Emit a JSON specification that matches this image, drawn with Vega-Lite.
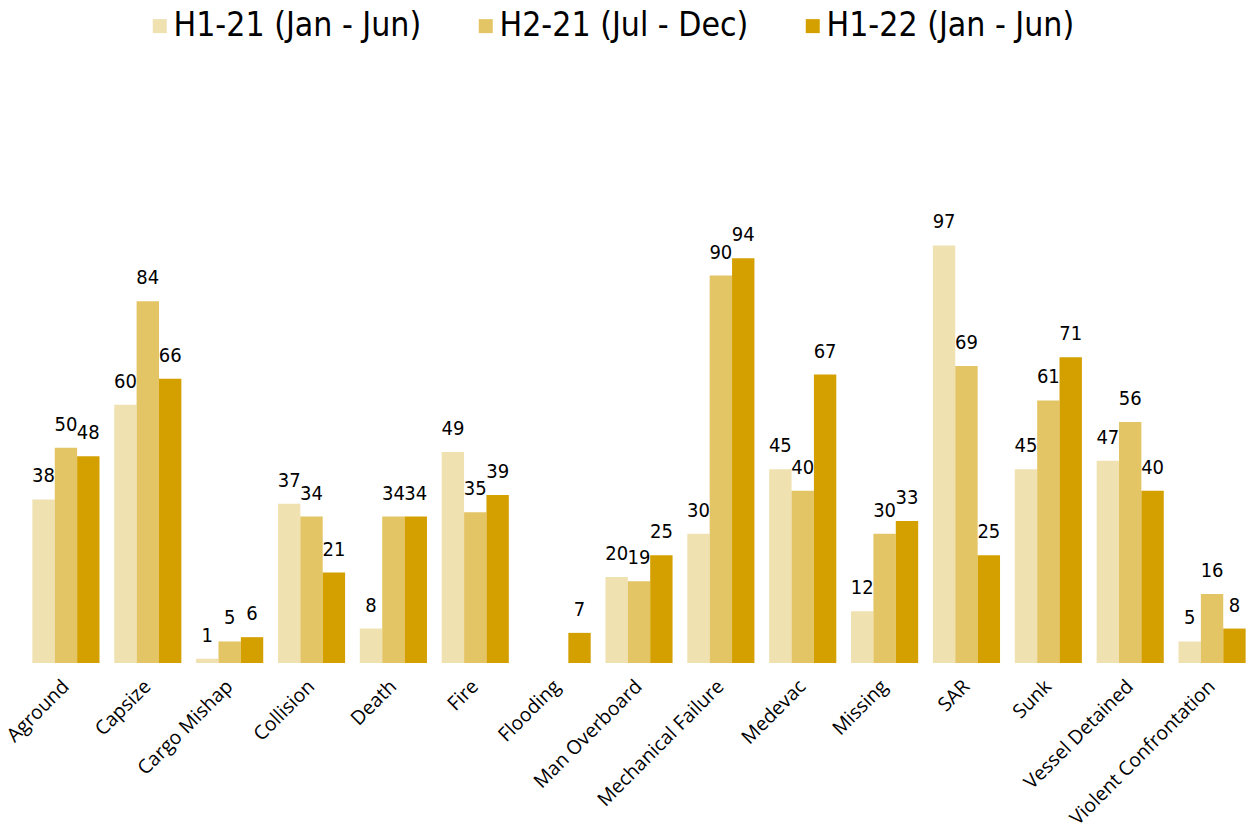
{
  "$schema": "https://vega.github.io/schema/vega-lite/v6.json",
  "autosize": "none",
  "width": 1228,
  "height": 663,
  "padding": {"left": 25, "right": 0, "top": 0, "bottom": 170},
  "background": "white",
  "config": {"view": {"stroke": null}},
  "data": {"values": [
    {"cat": "Aground", "s": "H1-21 (Jan - Jun)", "v": 38},
    {"cat": "Aground", "s": "H2-21 (Jul - Dec)", "v": 50},
    {"cat": "Aground", "s": "H1-22 (Jan - Jun)", "v": 48},
    {"cat": "Capsize", "s": "H1-21 (Jan - Jun)", "v": 60},
    {"cat": "Capsize", "s": "H2-21 (Jul - Dec)", "v": 84},
    {"cat": "Capsize", "s": "H1-22 (Jan - Jun)", "v": 66},
    {"cat": "Cargo Mishap", "s": "H1-21 (Jan - Jun)", "v": 1},
    {"cat": "Cargo Mishap", "s": "H2-21 (Jul - Dec)", "v": 5},
    {"cat": "Cargo Mishap", "s": "H1-22 (Jan - Jun)", "v": 6},
    {"cat": "Collision", "s": "H1-21 (Jan - Jun)", "v": 37},
    {"cat": "Collision", "s": "H2-21 (Jul - Dec)", "v": 34},
    {"cat": "Collision", "s": "H1-22 (Jan - Jun)", "v": 21},
    {"cat": "Death", "s": "H1-21 (Jan - Jun)", "v": 8},
    {"cat": "Death", "s": "H2-21 (Jul - Dec)", "v": 34},
    {"cat": "Death", "s": "H1-22 (Jan - Jun)", "v": 34},
    {"cat": "Fire", "s": "H1-21 (Jan - Jun)", "v": 49},
    {"cat": "Fire", "s": "H2-21 (Jul - Dec)", "v": 35},
    {"cat": "Fire", "s": "H1-22 (Jan - Jun)", "v": 39},
    {"cat": "Flooding", "s": "H1-22 (Jan - Jun)", "v": 7},
    {"cat": "Man Overboard", "s": "H1-21 (Jan - Jun)", "v": 20},
    {"cat": "Man Overboard", "s": "H2-21 (Jul - Dec)", "v": 19},
    {"cat": "Man Overboard", "s": "H1-22 (Jan - Jun)", "v": 25},
    {"cat": "Mechanical Failure", "s": "H1-21 (Jan - Jun)", "v": 30},
    {"cat": "Mechanical Failure", "s": "H2-21 (Jul - Dec)", "v": 90},
    {"cat": "Mechanical Failure", "s": "H1-22 (Jan - Jun)", "v": 94},
    {"cat": "Medevac", "s": "H1-21 (Jan - Jun)", "v": 45},
    {"cat": "Medevac", "s": "H2-21 (Jul - Dec)", "v": 40},
    {"cat": "Medevac", "s": "H1-22 (Jan - Jun)", "v": 67},
    {"cat": "Missing", "s": "H1-21 (Jan - Jun)", "v": 12},
    {"cat": "Missing", "s": "H2-21 (Jul - Dec)", "v": 30},
    {"cat": "Missing", "s": "H1-22 (Jan - Jun)", "v": 33},
    {"cat": "SAR", "s": "H1-21 (Jan - Jun)", "v": 97},
    {"cat": "SAR", "s": "H2-21 (Jul - Dec)", "v": 69},
    {"cat": "SAR", "s": "H1-22 (Jan - Jun)", "v": 25},
    {"cat": "Sunk", "s": "H1-21 (Jan - Jun)", "v": 45},
    {"cat": "Sunk", "s": "H2-21 (Jul - Dec)", "v": 61},
    {"cat": "Sunk", "s": "H1-22 (Jan - Jun)", "v": 71},
    {"cat": "Vessel Detained", "s": "H1-21 (Jan - Jun)", "v": 47},
    {"cat": "Vessel Detained", "s": "H2-21 (Jul - Dec)", "v": 56},
    {"cat": "Vessel Detained", "s": "H1-22 (Jan - Jun)", "v": 40},
    {"cat": "Violent Confrontation", "s": "H1-21 (Jan - Jun)", "v": 5},
    {"cat": "Violent Confrontation", "s": "H2-21 (Jul - Dec)", "v": 16},
    {"cat": "Violent Confrontation", "s": "H1-22 (Jan - Jun)", "v": 8}
  ]},
  "encoding": {
    "x": {
      "field": "cat", "type": "nominal", "sort": null,
      "scale": {"paddingInner": 0.18, "paddingOuter": 0.09},
      "axis": {"title": null, "labelAngle": -45, "labelAlign": "right", "labelBaseline": "middle",
               "labelFont": "Open Sans", "labelFontSize": 19.5, "labelColor": "#000000", "labelLimit": 400,
               "domain": false, "ticks": false, "labelPadding": 20, "grid": false}
    },
    "xOffset": {"field": "s", "type": "nominal", "sort": ["H1-21 (Jan - Jun)", "H2-21 (Jul - Dec)", "H1-22 (Jan - Jun)"], "scale": {"paddingInner": 0, "paddingOuter": 0, "domain": ["H1-21 (Jan - Jun)", "H2-21 (Jul - Dec)", "H1-22 (Jan - Jun)"]}},
    "y": {"field": "v", "type": "quantitative", "scale": {"domain": [0, 154], "nice": false}, "axis": null}
  },
  "layer": [
    {
      "mark": {"type": "bar"},
      "encoding": {
        "color": {
          "field": "s", "type": "nominal",
          "scale": {"domain": ["H1-21 (Jan - Jun)", "H2-21 (Jul - Dec)", "H1-22 (Jan - Jun)"], "range": ["#F0E1B1", "#E4C565", "#D4A000"]},
          "legend": {"title": null, "orient": "none", "legendX": 118, "legendY": 9, "direction": "horizontal",
                     "symbolType": "square", "symbolSize": 196, "symbolStrokeWidth": 0,
                     "labelFont": "DejaVu Sans Condensed", "labelFontSize": 33.5, "labelColor": "#000000",
                     "labelLimit": 400, "columnPadding": 47, "labelOffset": -3}
        }
      }
    },
    {
      "mark": {"type": "text", "baseline": "alphabetic", "dy": -17, "font": "DejaVu Sans Condensed", "fontSize": 20, "color": "#000000"},
      "encoding": {"text": {"field": "v", "type": "quantitative"}}
    }
  ]
}
